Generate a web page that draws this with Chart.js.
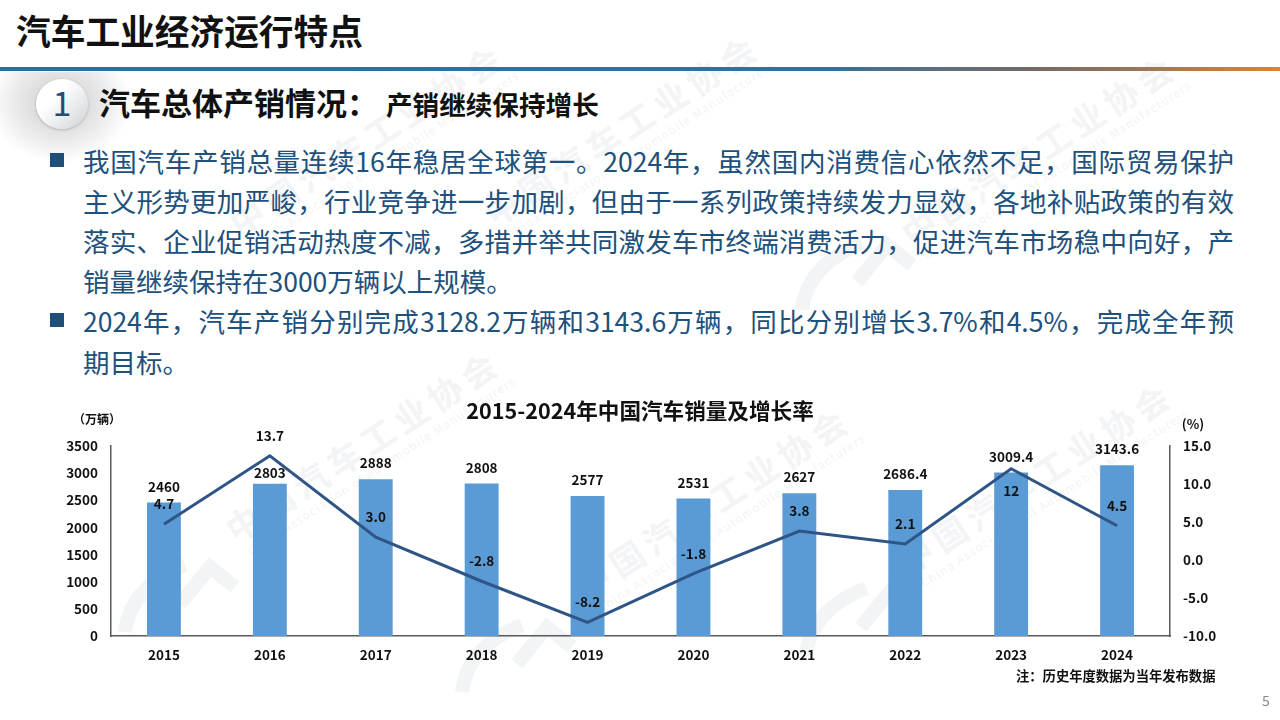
<!DOCTYPE html>
<html><head><meta charset="utf-8">
<style>
html,body{margin:0;padding:0;width:1280px;height:720px;overflow:hidden;background:#fff;font-family:"Noto Sans CJK SC",sans-serif}
#stage{position:relative;width:1280px;height:720px;overflow:hidden}
.abs{position:absolute;white-space:nowrap}
#rule{position:absolute;left:0;top:67px;width:1280px;height:4px;background:linear-gradient(90deg,#2f6f9c 0%,#35709a 65%,#5d6f7e 73%,#706a68 80%,#aa7a50 92%,#d6843a 100%)}
.wm{position:absolute;color:#f3f4f6;font-weight:700;font-size:34px;letter-spacing:6px;line-height:40px;transform-origin:0 0;transform:rotate(-33deg) translate(-17px,-50%);white-space:nowrap}
.wm small{position:absolute;left:6px;top:40px;font-size:11.5px;font-weight:400;letter-spacing:1.4px;line-height:14px;color:#f3f4f6}
#logos{position:absolute;left:0;top:0}
.line{position:absolute;left:83px;font-size:26.5px;color:#20507c;white-space:nowrap;line-height:40px;height:40px}
.just{width:1151px;white-space:normal;text-align:justify;text-align-last:justify;text-justify:inter-character}
.sq{position:absolute;left:50px;width:14px;height:14px;background:#1f4e79}
#shadow{position:absolute;left:0;top:72px;width:130px;height:90px;background:radial-gradient(ellipse at 60px 30px,rgba(120,120,125,.38) 0%,rgba(150,150,155,.2) 45%,rgba(255,255,255,0) 72%)}
#circle{position:absolute;left:36px;top:79px;width:52px;height:50px;border-radius:50%;background:linear-gradient(135deg,#ffffff 35%,#cfd2d6 100%);box-shadow:0 1px 3px rgba(90,90,90,.35);color:#1f4e79;font-size:34px;line-height:46px;text-align:center}
canvas{position:absolute;left:0;top:0}
</style></head><body><div id="stage">
<svg id="logos" width="1280" height="720"></svg>
<div id="wms"></div>
<div class="abs" style="left:16px;top:7px;font-size:34.7px;font-weight:700;color:#111;line-height:46px">汽车工业经济运行特点</div>
<div id="rule"></div>
<div id="shadow"></div>
<div id="circle">1</div>
<div class="abs" style="left:99px;top:81px;font-size:31px;font-weight:700;color:#111;line-height:42px">汽车总体产销情况：<span style="font-size:26.6px;margin-left:8px">产销继续保持增长</span></div>
<div class="sq" style="top:153px"></div>
<div class="line just" style="top:141px">我国汽车产销总量连续16年稳居全球第一。2024年，虽然国内消费信心依然不足，国际贸易保护</div>
<div class="line just" style="top:181px">主义形势更加严峻，行业竞争进一步加剧，但由于一系列政策持续发力显效，各地补贴政策的有效</div>
<div class="line just" style="top:221px">落实、企业促销活动热度不减，多措并举共同激发车市终端消费活力，促进汽车市场稳中向好，产</div>
<div class="line" style="top:261px">销量继续保持在3000万辆以上规模。</div>
<div class="sq" style="top:313px"></div>
<div class="line just" style="top:301px">2024年，汽车产销分别完成3128.2万辆和3143.6万辆，同比分别增长3.7%和4.5%，完成全年预</div>
<div class="line" style="top:342px">期目标。</div>
<canvas id="c" width="1280" height="720"></canvas>
<div class="abs" style="left:1016px;top:667px;font-size:13.3px;font-weight:700;color:#111;line-height:18px">注：历史年度数据为当年发布数据</div>
<div class="abs" style="left:1262px;top:691px;font-size:14px;color:#8a8a8a;line-height:18px">5</div>
</div>
<script src="https://cdn.jsdelivr.net/npm/chart.js@4"></script>
<script>
const years=['2015','2016','2017','2018','2019','2020','2021','2022','2023','2024'];
const sales=[2460,2803,2888,2808,2577,2531,2627,2686.4,3009.4,3143.6];
const growth=[4.7,13.7,3.0,-2.8,-8.2,-1.8,3.8,2.1,12,4.5];
const salesText=['2460','2803','2888','2808','2577','2531','2627','2686.4','3009.4','3143.6'];
const growthText=['4.7','13.7','3.0','-2.8','-8.2','-1.8','3.8','2.1','12','4.5'];
const leftTicks=[0,500,1000,1500,2000,2500,3000,3500];
const rightTicks=[-10,-5,0,5,10,15];
const chartTitle='2015-2024年中国汽车销量及增长率';
const leftUnit='（万辆）';
const rightUnit='(%)';

const wmBox=document.getElementById('wms');
[[243,523],[593,580],[916,555],[919,227],[247,217],[502,207]].forEach(p=>{
  const d=document.createElement('div');d.className='wm';d.style.left=p[0]+'px';d.style.top=p[1]+'px';
  d.innerHTML='中国汽车工业协会<small>China Association of Automobile Manufacturers</small>';wmBox.appendChild(d);
});
const logoSvg=document.getElementById('logos');
[[125,632],[462,692],[806,655],[802,310]].forEach(p=>{
  const g=document.createElementNS('http://www.w3.org/2000/svg','path');
  g.setAttribute('d','M0 0 Q 5 -45 60 -67 M 55 -28 L 85 -65 L 110 -45');
  g.setAttribute('transform','translate('+p[0]+','+p[1]+')');
  g.setAttribute('fill','none');g.setAttribute('stroke','#f3f4f6');g.setAttribute('stroke-width','14');
  logoSvg.appendChild(g);
});

const FONT='"Noto Sans CJK SC",sans-serif';
const labels={id:'labels',afterDatasetsDraw(ch){
  const c=ch.ctx;c.save();c.font='700 13.5px '+FONT;c.fillStyle='#111';c.textAlign='center';c.textBaseline='middle';
  ch.getDatasetMeta(1).data.forEach((el,i)=>{
    const dy=sales[i]===2803?-11:-16;
    c.fillText(salesText[i],el.x,el.y+dy);
  });
  ch.getDatasetMeta(0).data.forEach((el,i)=>{
    const dy=growth[i]===12?22:-20;
    c.fillText(growthText[i],el.x,el.y+dy);
  });
  const a=ch.chartArea;
  c.font='700 12px '+FONT;
  c.fillText(leftUnit,a.left-14,419);
  c.font='700 13px '+FONT;
  c.fillText(rightUnit,a.right+23,424);
  c.restore();
}};
new Chart(document.getElementById('c'),{
 data:{labels:years,datasets:[
  {type:'line',label:'增长率',data:growth,yAxisID:'y2',borderColor:'#2f5486',borderWidth:3,pointRadius:0,tension:0,order:0,clip:false},
  {type:'bar',label:'销量',data:sales,yAxisID:'y',backgroundColor:'#5b9bd5',barPercentage:.32,categoryPercentage:1,order:1}
 ]},
 options:{responsive:false,animation:false,devicePixelRatio:1,
  layout:{padding:{left:0,right:0,top:0,bottom:0}},
  plugins:{legend:{display:false},tooltip:{enabled:false},
   title:{display:true,text:chartTitle,color:'#111',font:{family:FONT,size:21.6,weight:'700'},padding:{top:398,bottom:22}}},
  scales:{
   x:{grid:{display:false,drawTicks:false},border:{color:'#595959',width:1.5},
      ticks:{color:'#111',font:{family:FONT,size:13.5,weight:'700'},padding:11,maxRotation:0},
      afterFit(s){s.height=84}},
   y:{position:'left',min:0,max:3500,grid:{display:false,drawTicks:false},border:{color:'#595959',width:1.5},
      afterBuildTicks(s){s.ticks=leftTicks.map(v=>({value:v}))},
      ticks:{color:'#111',font:{family:FONT,size:13.5,weight:'700'},padding:13,callback:v=>String(v)},
      afterFit(s){s.width=111}},
   y2:{position:'right',min:-10,max:15,grid:{display:false,drawTicks:false},border:{color:'#595959',width:1.5},
      afterBuildTicks(s){s.ticks=rightTicks.map(v=>({value:v}))},
      ticks:{color:'#111',font:{family:FONT,size:13.5,weight:'700'},padding:13,callback:v=>v.toFixed(1)},
      afterFit(s){s.width=110}}
  }},
 plugins:[labels]
});
</script></body></html>
